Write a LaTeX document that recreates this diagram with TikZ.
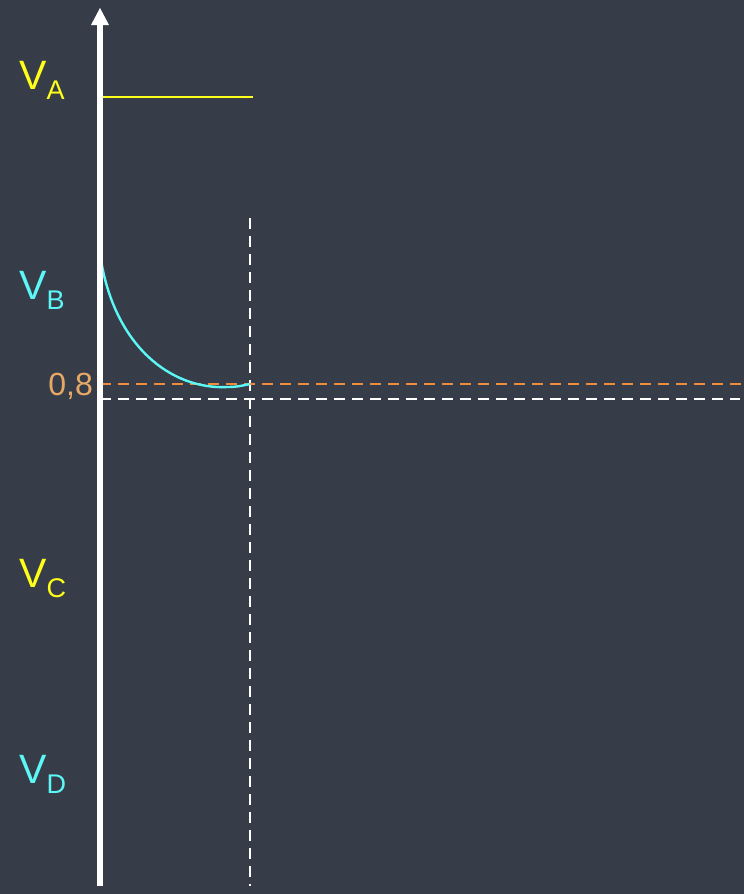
\documentclass[tikz,border=0pt]{standalone}
\usepackage{fontspec}
\setmainfont{Liberation Sans}
\definecolor{bg}{HTML}{373D48}
\definecolor{vyel}{HTML}{FFFF1A}
\definecolor{vcyan}{HTML}{5CF7F7}
\definecolor{dorange}{HTML}{F08A3E}
\definecolor{torange}{HTML}{E8A865}
\tikzset{
  lbl/.style={inner sep=0pt, anchor=base west, font=\fontsize{41}{41}\selectfont},
  dashw/.style={white, line width=2pt, dash pattern=on 11pt off 7pt},
  dasho/.style={dorange, line width=2pt, dash pattern=on 11pt off 7pt},
}
\newcommand{\vsub}[1]{\raisebox{-10pt}{\fontsize{27}{27}\selectfont #1}}
\begin{document}
\begin{tikzpicture}[x=1pt,y=-1pt]
\useasboundingbox (0,0) rectangle (744,894);
\fill[bg] (0,0) rectangle (744,894);
% coordinates
\coordinate (ax0) at (100,886);
\coordinate (ax1) at (100,8);
\coordinate (va0) at (100,97);
\coordinate (va1) at (253,97);
\coordinate (cb0) at (101,260);
\coordinate (cb1) at (250,384);
\coordinate (o0) at (100,384);
\coordinate (o1) at (744,384);
\coordinate (w0) at (100,399);
\coordinate (w1) at (740,399);
\coordinate (v0) at (250,218);
\coordinate (v1) at (250,886);
% dashed lines
\draw[dashw] (w0) -- (w1);
\draw[dashw] (v0) -- (v1);
\draw[dasho] (o0) -- (o1);
% VA line
\draw[vyel, line width=2.6pt] (va0) -- (va1);
% VB curve
\draw[vcyan, line width=2.4pt] (cb0) .. controls (115,345) and (170,390) .. (228,387) .. controls (238,387) and (245,385) .. (cb1);
% axis
\draw[white, line width=5.5pt] (ax0) -- (100,22);
\fill[white] (ax1) -- (109,25) -- (91,25) -- cycle;
% labels
\node[lbl, text=vyel] (la) at (19,89) {V\vsub{A}};
\node[lbl, text=vcyan] (lb) at (19,299) {V\vsub{B}};
\node[lbl, text=vyel] (lc) at (19,587) {V\vsub{C}};
\node[lbl, text=vcyan] (ld) at (19,783) {V\vsub{D}};
\node[inner sep=0pt, anchor=base east, text=torange, font=\fontsize{32}{32}\selectfont] (l08) at (93,395) {0,8};
\end{tikzpicture}
\end{document}
